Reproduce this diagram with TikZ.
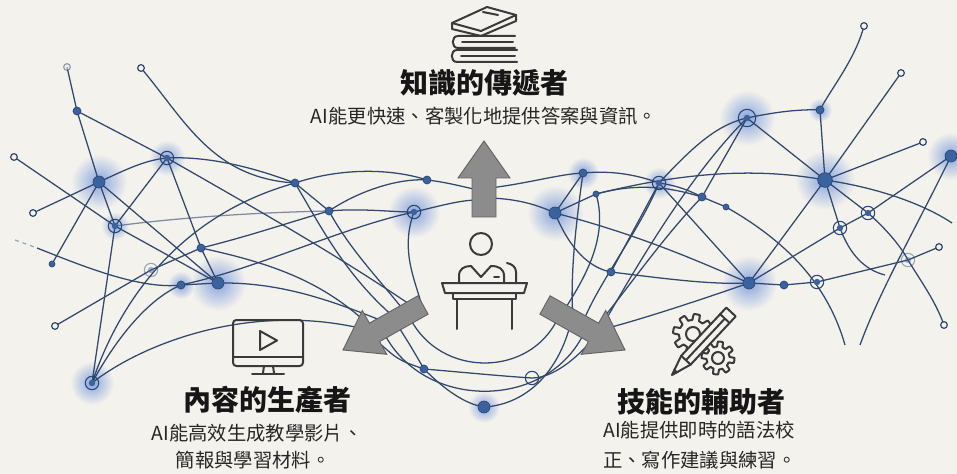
\documentclass[tikz,border=0pt]{standalone}
\usepackage{fontspec}
\setmainfont{Noto Sans CJK TC}
\usetikzlibrary{calc}
\definecolor{bg}{RGB}{244,242,236}
\definecolor{linec}{RGB}{50,72,108}
\definecolor{nodec}{RGB}{58,98,158}
\definecolor{nodeedge}{RGB}{40,68,115}
\definecolor{glowc}{RGB}{135,165,222}
\definecolor{titlec}{RGB}{22,22,22}
\definecolor{subc}{RGB}{38,38,38}
\definecolor{iconc}{RGB}{58,58,58}
\definecolor{arrowf}{RGB}{140,140,140}
\definecolor{arrowe}{RGB}{100,100,100}
\pgfdeclarelayer{back}
\pgfdeclarelayer{glow}
\pgfdeclarelayer{links}
\pgfsetlayers{back,glow,links,main}
\tikzset{
  net/.style={draw=linec, line width=0.95pt},
  dotn/.style={circle, fill=nodec, draw=nodeedge, line width=0.5pt, inner sep=0pt, minimum size=6pt},
  smalln/.style={dotn, minimum size=4.5pt},
  bign/.style={dotn, minimum size=9pt},
  ringn/.style={circle, draw=nodeedge, line width=0.8pt, inner sep=0pt, minimum size=10pt,
    path picture={\fill[nodec] (path picture bounding box.center) circle (2.4pt);}},
  openn/.style={circle, draw=linec, line width=0.9pt, fill=bg, inner sep=0pt, minimum size=5pt},
  titlet/.style={font=\fontsize{21}{25}\selectfont\bfseries, text=titlec, inner sep=0pt},
  subt/.style={font=\fontsize{14.5}{18}\selectfont, text=subc, inner sep=0pt},
  iconl/.style={draw=iconc, line width=1.5pt, line cap=round, line join=round},
  garrow/.style={fill=arrowf, draw=arrowe, line width=0.7pt, line join=miter},
  glowing/.style={inner color=glowc, outer color=bg}
}
\begin{document}
\begin{tikzpicture}[x=0.75pt,y=-0.75pt]
\useasboundingbox (0,0) rectangle (957,474);
\begin{pgfonlayer}{back}
  \fill[bg] (0,0) rectangle (957,474);
\end{pgfonlayer}

% ---------- network nodes, left cluster ----------
\node[openn, opacity=.5] (l1) at (67,67) {};
\node[openn] (l2) at (141,68) {};
\node[dotn] (l3) at (77,111) {};
\node[ringn] (l4) at (167,158) {};
\node[bign] (l5) at (99,182) {};
\node[openn] (l6) at (14,157) {};
\node[openn] (l7) at (33,213) {};
\node[ringn] (l8) at (115,226) {};
\node[smalln] (l9) at (52,264) {};
\node[dotn] (l10) at (201,248) {};
\node[ringn, opacity=.45] (l11) at (151,270) {};
\node[dotn] (l12) at (181,285) {};
\node[bign] (l13) at (218,283) {};
\node[openn] (l14) at (55,326) {};
\node[ringn] (l15) at (92,383) {};
\node[dotn] (m1) at (295,183) {};
\node[dotn] (m2) at (427,180) {};
\node[dotn] (m3) at (329,211) {};
\node[ringn] (m4) at (414,212) {};
\coordinate (ld) at (15,240);
\coordinate (ld2) at (37,248);

% ---------- network nodes, right cluster ----------
\node[dotn] (ra) at (583,173) {};
\node[smalln] (rb) at (596,194) {};
\node[bign] (rc) at (555,213) {};
\node[ringn] (rd) at (659,183) {};
\node[dotn] (re) at (702,197) {};
\node[smalln] (rf) at (726,207) {};
\node[dotn] (rg) at (611,272) {};
\node[ringn, minimum size=13pt] (rh) at (747,118) {};
\node[dotn] (ri) at (820,110) {};
\node[openn] (rj) at (864,26) {};
\node[openn] (rk) at (901,73) {};
\node[openn] (rl) at (923,142) {};
\node[bign] (rm) at (951,156) {};
\node[bign, minimum size=11pt] (rn) at (825,180) {};
\node[ringn] (ro) at (868,213) {};
\node[ringn] (rp) at (840,228) {};
\node[ringn, opacity=.45] (rq) at (908,260) {};
\node[openn] (rr) at (939,247) {};
\node[bign] (rs) at (749,283) {};
\node[dotn] (rt) at (784,285) {};
\node[ringn] (ru) at (817,282) {};
\node[openn] (rv) at (944,325) {};
\coordinate (rn1) at (952,223);
\coordinate (rn2) at (885,275);
\coordinate (rb1) at (845,345);
\coordinate (rb2) at (860,345);

% ---------- network nodes, bottom ----------
\node[dotn] (bl) at (424,369) {};
\node[bign] (bc) at (484,407) {};
\node[ringn, path picture={}] (br) at (532,378) {};

% hidden ends beneath the arrows
\coordinate (tu1) at (478,190); \coordinate (tu2) at (478,200);
\coordinate (tu3) at (490,188); \coordinate (tu4) at (490,198);
\coordinate (wl1) at (368,330); \coordinate (wl2) at (385,322);
\coordinate (wl3) at (395,318); \coordinate (wl4) at (405,312);
\coordinate (wl5) at (415,308); \coordinate (wl6) at (378,334);
\coordinate (wl7) at (422,306);
\coordinate (wr1) at (600,330); \coordinate (wr2) at (583,322);
\coordinate (wr3) at (573,318); \coordinate (wr4) at (563,312);
\coordinate (wr5) at (553,308); \coordinate (wr6) at (590,334);
\coordinate (bL1) at (398,326); \coordinate (bL2) at (385,335);
\coordinate (bL3) at (410,318); \coordinate (bL4) at (376,340);
\coordinate (bR1) at (570,326); \coordinate (bR2) at (583,335);
\coordinate (bR3) at (558,318); \coordinate (bR4) at (592,340);

% ---------- soft glows ----------
\begin{pgfonlayer}{glow}
  \foreach \g/\r in {l5/28,l4/18,l13/28,l15/22,l12/14,m4/26,rc/28,ra/16,rd/16,rh/28,rn/30,rm/24,rs/28,bc/16,l8/14,ri/12}
    \shade[glowing] (\g.center) circle (\r);
\end{pgfonlayer}

% ---------- links ----------
\begin{pgfonlayer}{links}
  % left cluster
  \draw[net] (l3.center) -- (l1.center);
  \draw[net] (l3.center) -- (l4.center);
  \draw[net] (l3.center) -- (l5.center);
  \draw[net] (l2.center) .. controls (185,120) and (212,178) .. (m1.center);
  \draw[net] (l7.center) -- (l5.center);
  \draw[net] (l5.center) .. controls (125,170) and (145,160) .. (l4.center);
  \draw[net] (l4.center) .. controls (210,156) and (255,168) .. (m1.center);
  \draw[net] (l6.center) -- (l8.center) -- (l13.center);
  \draw[net] (l5.center) -- (l8.center) -- (l15.center);
  \draw[net] (l5.center) -- (l9.center);
  \draw[net] (l4.center) -- (l8.center);
  \draw[net] (l4.center) -- (l10.center) -- (l13.center);
  \draw[net] (l5.center) -- (l13.center);
  \draw[net] (l14.center) -- (l11.center) -- (l10.center);
  \draw[net] (l10.center) .. controls (250,236) and (290,222) .. (m3.center);
  \draw[net, dashed, opacity=.45] (ld) -- (ld2);
  \draw[net] (ld2) .. controls (80,265) and (140,290) .. (l12.center) -- (l13.center);
  \draw[net] (l15.center) .. controls (118,335) and (150,298) .. (l12.center);
  \draw[net] (l15.center) .. controls (120,300) and (180,215) .. (m1.center);
  \draw[net] (l15.center) .. controls (140,345) and (250,300) .. (wl1);
  \draw[net] (l12.center) .. controls (260,268) and (340,228) .. (m4.center);
  \draw[net] (l13.center) .. controls (280,282) and (330,300) .. (wl2);
  \draw[net, opacity=.6] (l8.center) .. controls (200,215) and (280,212) .. (m3.center);
  \draw[net] (l4.center) .. controls (240,200) and (330,250) .. (wl5);
  \draw[net] (l10.center) .. controls (280,265) and (330,285) .. (wl6);
  % centre left
  \draw[net] (m1.center) .. controls (340,168) and (390,168) .. (m2.center);
  \draw[net] (m2.center) .. controls (445,182) and (460,186) .. (tu1);
  \draw[net] (m3.center) .. controls (360,208) and (390,212) .. (m4.center);
  \draw[net] (m4.center) .. controls (440,206) and (460,200) .. (tu2);
  \draw[net] (m3.center) .. controls (360,190) and (400,178) .. (m2.center);
  \draw[net] (m1.center) -- (m3.center);
  \draw[net] (m1.center) .. controls (320,225) and (345,275) .. (wl3);
  \draw[net] (m3.center) .. controls (350,250) and (380,280) .. (wl4);
  \draw[net] (m4.center) .. controls (400,250) and (415,280) .. (wl7);
  % centre right
  \draw[net] (tu3) .. controls (530,183) and (560,174) .. (ra.center);
  \draw[net] (ra.center) .. controls (615,170) and (640,176) .. (rd.center);
  \draw[net] (rd.center) .. controls (680,186) and (692,192) .. (re.center) -- (rf.center);
  \draw[net] (rf.center) .. controls (775,235) and (825,275) .. (rb1);
  \draw[net] (tu4) .. controls (520,199) and (540,206) .. (rc.center);
  \draw[net] (rc.center) -- (ra.center);
  \draw[net] (rc.center) -- (rb.center);
  \draw[net] (rb.center) .. controls (640,182) and (672,188) .. (re.center);
  \draw[net] (rc.center) .. controls (570,250) and (590,268) .. (rg.center);
  \draw[net] (rc.center) .. controls (640,235) and (700,262) .. (rs.center);
  \draw[net] (rg.center) -- (rd.center);
  \draw[net] (rg.center) .. controls (660,278) and (710,285) .. (rs.center);
  \draw[net] (rd.center) .. controls (690,150) and (715,125) .. (rh.center);
  \draw[net] (rh.center) .. controls (690,175) and (640,260) .. (wr1);
  \draw[net] (ra.center) .. controls (575,230) and (570,280) .. (wr3);
  \draw[net] (rd.center) .. controls (640,230) and (600,280) .. (wr2);
  \draw[net] (rb.center) .. controls (610,240) and (580,285) .. (wr4);
  \draw[net] (re.center) .. controls (660,240) and (620,300) .. (wr6);
  \draw[net] (rs.center) .. controls (700,300) and (640,320) .. (wr1);
  % right cluster
  \draw[net] (rj.center) .. controls (855,60) and (830,90) .. (ri.center) -- (rn.center);
  \draw[net] (rh.center) .. controls (775,112) and (800,109) .. (ri.center);
  \draw[net] (rh.center) -- (rn.center);
  \draw[net] (rh.center) -- (re.center);
  \draw[net] (rk.center) -- (rn.center);
  \draw[net] (rl.center) -- (rn.center);
  \draw[net] (rm.center) -- (ro.center) -- (rp.center) -- (rs.center);
  \draw[net] (rn.center) -- (rs.center);
  \draw[net] (rn.center) .. controls (880,188) and (925,205) .. (rn1);
  \draw[net] (rn.center) -- (ro.center);
  \draw[net] (rn.center) -- (rp.center);
  \draw[net] (ro.center) .. controls (885,228) and (900,245) .. (rq.center) .. controls (920,280) and (935,300) .. (rv.center);
  \draw[net] (rp.center) .. controls (850,255) and (865,270) .. (rn2);
  \draw[net] (rs.center) -- (rt.center) -- (ru.center) -- (rq.center) -- (rr.center);
  \draw[net] (rd.center) -- (rs.center);
  \draw[net] (rb.center) .. controls (700,168) and (770,170) .. (rn.center);
  \draw[net] (rm.center) .. controls (915,230) and (880,290) .. (rb2);
  % bottom
  \draw[net] (bL1) .. controls (410,345) .. (bl.center);
  \draw[net] (bl.center) .. controls (445,390) and (465,404) .. (bc.center);
  \draw[net] (bc.center) .. controls (520,405) and (555,380) .. (bR1);
  \draw[net] (bL4) .. controls (398,360) .. (bl.center);
  \draw[net] (bl.center) .. controls (460,372) and (500,376) .. (br.center);
  \draw[net] (br.center) .. controls (552,378) and (575,360) .. (bR4);
  \draw[net] (bL3) .. controls (440,378) and (530,378) .. (bR3);
  \draw[net] (bL2) .. controls (425,410) and (545,410) .. (bR2);
\end{pgfonlayer}

% ---------- grey arrows ----------
\draw[garrow] (484,141) -- (510,178) -- (496,178) -- (496,217) -- (472,217) -- (472,178) -- (458,178) -- cycle;
\draw[garrow] (343,350) -- (362.3,310.5) -- (369.4,323.2) -- (417.9,295.8) -- (428.1,314.2) -- (379.6,341.6) -- (386.7,354.3) -- cycle;
\draw[garrow] (625,350) -- (605.7,310.5) -- (598.6,323.2) -- (550.1,295.8) -- (539.9,314.2) -- (588.4,341.6) -- (581.3,354.3) -- cycle;

% ---------- teacher at the lectern ----------
\draw[iconl] (481,244) circle (11);
\draw[iconl] (459,283) -- (459,276) .. controls (459,269) and (464,266) .. (471,266) -- (481,277) -- (491,266) .. controls (499,266) and (504,269) .. (504,276) -- (504,283);
\draw[iconl] (494,277) -- (499,277);
\draw[iconl] (507,263) .. controls (512,264) and (516,267) .. (516,272) -- (516,283);
\draw[iconl] (442,283) -- (527,283) -- (524,293) -- (445,293) -- cycle;
\draw[iconl] (453,293) -- (453,299) -- (516,299) -- (516,293);
\draw[iconl] (457,299) -- (457,329);
\draw[iconl] (512,299) -- (512,329);

% ---------- books ----------
\draw[iconl] (452,23) -- (487,7) -- (516,15) -- (516,21) -- (481,36) -- (452,29) -- cycle;
\draw[iconl] (452,23) -- (481,31) -- (516,15);
\draw[iconl] (483,12) -- (498,15);
\draw[iconl] (515,36) -- (458,36) .. controls (451,36) and (451,48) .. (458,48) -- (515,48);
\draw[iconl] (462,42) -- (513,42);
\draw[iconl] (517,50) -- (457,50) .. controls (450,50) and (450,62) .. (457,62) -- (517,62);
\draw[iconl] (461,56) -- (515,56);

% ---------- monitor ----------
\draw[iconl, rounded corners=2.5] (233,320) rectangle (303,366);
\draw[iconl] (233,357) -- (303,357);
\draw[iconl] (260,331) -- (260,350) -- (277,340.5) -- cycle;
\draw[iconl] (264,366) -- (263,373);
\draw[iconl] (273,366) -- (274,373);
\draw[iconl] (252,374) -- (284,374);

% ---------- gears and pencil ----------
\draw[iconl, fill=bg] plot[domain=0:360, samples=181, variable=\t]
  ({693+(17+3*max(-1,min(1,3*sin(8*\t))))*cos(\t)}, {334+(17+3*max(-1,min(1,3*sin(8*\t))))*sin(\t)}) -- cycle;
\draw[iconl] (693,334) circle (7);
\draw[iconl, fill=bg] plot[domain=0:360, samples=181, variable=\t]
  ({718+(14+2.5*max(-1,min(1,3*sin(8*\t+20))))*cos(\t)}, {358+(14+2.5*max(-1,min(1,3*sin(8*\t+20))))*sin(\t)}) -- cycle;
\draw[iconl] (718,358) circle (6);
\draw[iconl, fill=bg] (726.3,307.6) -- (735.7,316.4) -- (690.6,364.6) -- (672,375) -- (681.2,355.8) -- cycle;
\draw[iconl] (720.1,314.1) -- (729.6,323.0);
\draw[iconl] (681.2,355.8) -- (690.6,364.6);
\draw[iconl] (724.8,318.6) -- (685.9,360.2);
\fill[iconc] (678.6,372.6) -- (672,375) -- (674.0,368.2) -- cycle;

% ---------- texts ----------
\node[titlet] (t1) at (484,83) {知識的傳遞者};
\node[subt] (s1) at (484,116) {AI能更快速、客製化地提供答案與資訊。};
\node[titlet] (t2) at (267,400) {內容的生產者};
\node[subt] (s2a) at (257,433) {AI能高效生成教學影片、};
\node[subt] (s2b) at (253,460) {簡報與學習材料。};
\node[titlet] (t3) at (701,402) {技能的輔助者};
\node[subt, anchor=west] (s3a) at (603,430) {AI能提供即時的語法校};
\node[subt, anchor=west] (s3b) at (603,460) {正、寫作建議與練習。};
\end{tikzpicture}
\end{document}
